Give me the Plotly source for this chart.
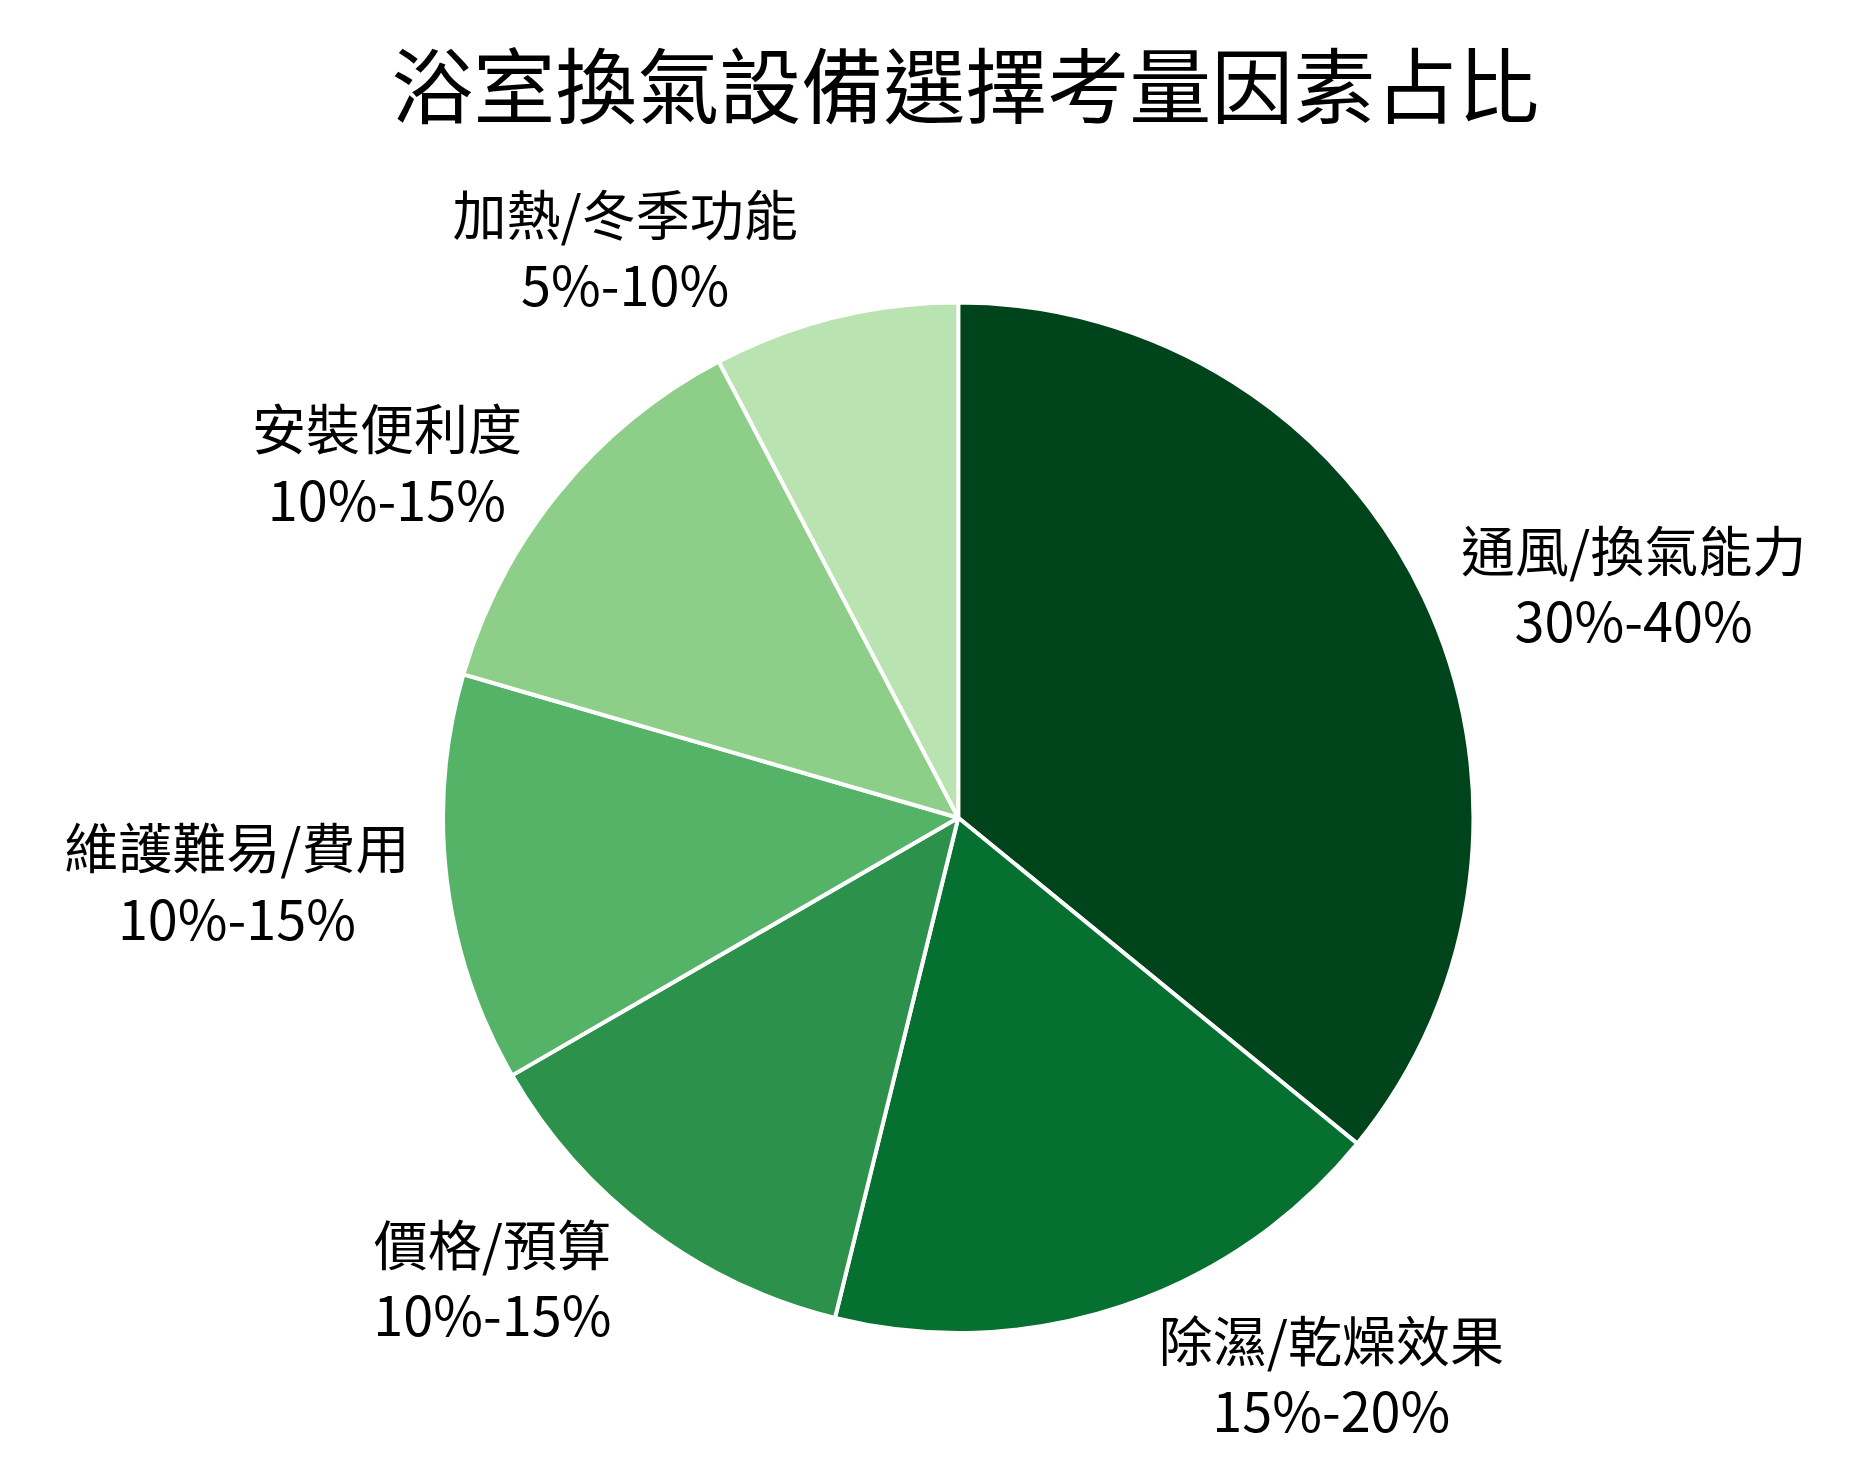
import plotly.graph_objects as go

labels = ["通風/換氣能力", "除濕/乾燥效果", "價格/預算", "維護難易/費用", "安裝便利度", "加熱/冬季功能"]
ranges = ["30%-40%", "15%-20%", "10%-15%", "10%-15%", "10%-15%", "5%-10%"]
values = [35, 17.5, 12.5, 12.5, 12.5, 7.5]
colors = ["#00441b", "#067030", "#2c914a", "#55b368", "#8dcf88", "#b9e3b1"]

text = [f"{l}<br>{r}" for l, r in zip(labels, ranges)]

fig = go.Figure(go.Pie(
    labels=labels, values=values, text=text, textinfo="text",
    textposition="outside", sort=False, direction="clockwise", rotation=0,
    marker=dict(colors=colors, line=dict(color="white", width=4)),
    textfont=dict(size=54, color="black"), showlegend=False, hoverinfo="label+percent",
    domain=dict(x=[0.12, 0.91], y=[0.08, 0.88]),
))
fig.update_layout(
    width=1855, height=1468, paper_bgcolor="white",
    font=dict(family="Noto Sans CJK TC"),
    title=dict(text="浴室換氣設備選擇考量因素占比", x=0.516, y=0.965, xanchor="center",
               font=dict(size=82, color="black")),
    margin=dict(l=20, r=20, t=140, b=40),
    uniformtext=dict(minsize=54),
)
fig.write_html("out.html")
